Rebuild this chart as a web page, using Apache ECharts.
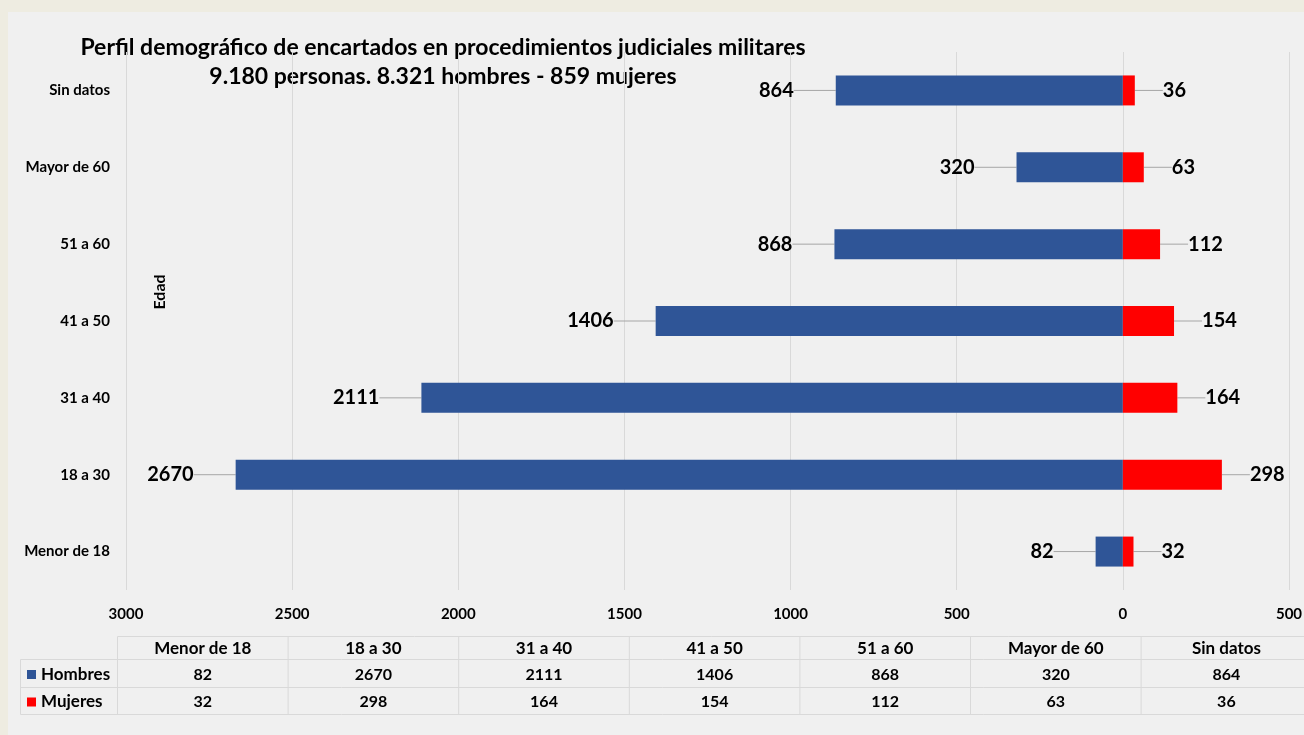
<!DOCTYPE html>
<html>
<head>
<meta charset="utf-8">
<script src="https://cdn.jsdelivr.net/npm/echarts@6/dist/echarts.min.js"></script>
<style>
  html, body { margin: 0; padding: 0; background: #EEECE1; }
  #panel { position: absolute; left: 8px; top: 12px; width: 1296px; height: 723px; background: #F0F0F0; }
  #chart { position: absolute; left: 0; top: 0; width: 1304px; height: 735px; }
</style>
</head>
<body>
<div id="panel"></div>
<div id="chart"></div>
<script>
// Age groups (bottom to top on the chart, left to right in the table)
const categories = ['Menor de 18', '18 a 30', '31 a 40', '41 a 50', '51 a 60', 'Mayor de 60', 'Sin datos'];
const hombres = [82, 2670, 2111, 1406, 868, 320, 864];
const mujeres = [32, 298, 164, 154, 112, 63, 36];
const seriesNames = ['Hombres', 'Mujeres'];
const seriesColors = ['#2F5597', '#FF0000'];
const titleLines = [
  'Perfil demográfico de encartados en procedimientos judiciales militares',
  '9.180 personas. 8.321 hombres - 859 mujeres'
];
const axisName = 'Edad';

const FONT = 'Lato, "Open Sans", sans-serif';
const TEXT = '#000000';
const GRID_LINE = '#D9D9D9';

const chart = echarts.init(document.getElementById('chart'), null, { renderer: 'canvas' });

function txt(x, y, text, size, align, extra) {
  return Object.assign({
    type: 'text', x: x, y: y, silent: true,
    style: {
      text: String(text), fill: TEXT, fontFamily: FONT, fontWeight: 'bold',
      fontSize: size, align: align || 'center', verticalAlign: 'middle'
    }
  }, extra || {});
}
function seg(x1, y1, x2, y2) {
  return { type: 'line', silent: true, shape: { x1: x1, y1: y1, x2: x2, y2: y2 },
           style: { stroke: GRID_LINE, lineWidth: 1 } };
}

// Data table under the chart, built from the same arrays as the bars
const tableLeft = 117.5, colW = 170.6, legendLeft = 20.5;
const rowY = [636.5, 659.5, 687.5, 714.5];
const tableRight = tableLeft + colW * categories.length;
const graphics = [];

graphics.push(seg(tableLeft, rowY[0], tableRight, rowY[0]));
for (let r = 1; r < rowY.length; r++) graphics.push(seg(legendLeft, rowY[r], tableRight, rowY[r]));
graphics.push(seg(legendLeft, rowY[1], legendLeft, rowY[3]));
for (let c = 0; c <= categories.length; c++) {
  const x = tableLeft + c * colW;
  graphics.push(seg(x, rowY[0], x, rowY[3]));
}
categories.forEach(function (cat, i) {
  const cx = tableLeft + (i + 0.5) * colW;
  graphics.push(txt(cx, (rowY[0] + rowY[1]) / 2 + 1, cat, 17));
  graphics.push(txt(cx, (rowY[1] + rowY[2]) / 2 + 1, hombres[i], 16));
  graphics.push(txt(cx, (rowY[2] + rowY[3]) / 2 + 1, mujeres[i], 16));
});
seriesNames.forEach(function (name, r) {
  const cy = (rowY[r + 1] + rowY[r + 2]) / 2 + 1;
  graphics.push({ type: 'rect', silent: true, shape: { x: 27, y: cy - 4.5, width: 9, height: 9 },
                  style: { fill: seriesColors[r] } });
  graphics.push(txt(41, cy, name, 17, 'left'));
});

// Title lines and the rotated category-axis name
graphics.push(txt(443, 48, titleLines[0], 23));
graphics.push(txt(443, 77, titleLines[1], 23));
graphics.push(txt(160, 292, axisName, 16, 'center', { rotation: Math.PI / 2 }));

const labelBase = {
  show: true, fontSize: 20, fontWeight: 'bold', color: TEXT, fontFamily: FONT, distance: 4,
  formatter: function (p) { return Math.abs(p.value); }
};
const leader = { show: true, lineStyle: { color: '#A6A6A6', width: 1 } };

chart.setOption({
  animation: false,
  textStyle: { fontFamily: FONT },
  grid: { left: 126, right: 15, top: 52, bottom: 145, containLabel: false, outerBoundsMode: 'none' },
  xAxis: {
    type: 'value', min: -3000, max: 500, interval: 500,
    axisLine: { show: false }, axisTick: { show: false },
    splitLine: { show: true, lineStyle: { color: GRID_LINE, width: 1 } },
    axisLabel: {
      fontSize: 15, fontWeight: 'bold', color: TEXT, margin: 17, fontFamily: FONT,
      formatter: function (v) { return Math.abs(v); }
    }
  },
  yAxis: {
    type: 'category', data: categories,
    axisLine: { show: false }, axisTick: { show: false }, splitLine: { show: false },
    axisLabel: { fontSize: 15, fontWeight: 'bold', color: TEXT, margin: 16, fontFamily: FONT }
  },
  series: [
    {
      name: seriesNames[0], type: 'bar', stack: 'total', barWidth: '39%',
      data: hombres.map(function (v) { return -v; }),
      itemStyle: { color: seriesColors[0] },
      label: Object.assign({}, labelBase, { position: 'left' }),
      labelLayout: { dx: -38 },
      labelLine: leader
    },
    {
      name: seriesNames[1], type: 'bar', stack: 'total', barWidth: '39%',
      data: mujeres,
      itemStyle: { color: seriesColors[1] },
      label: Object.assign({}, labelBase, { position: 'right' }),
      labelLayout: { dx: 24 },
      labelLine: leader
    }
  ],
  graphic: { elements: graphics }
});
</script>
</body>
</html>
